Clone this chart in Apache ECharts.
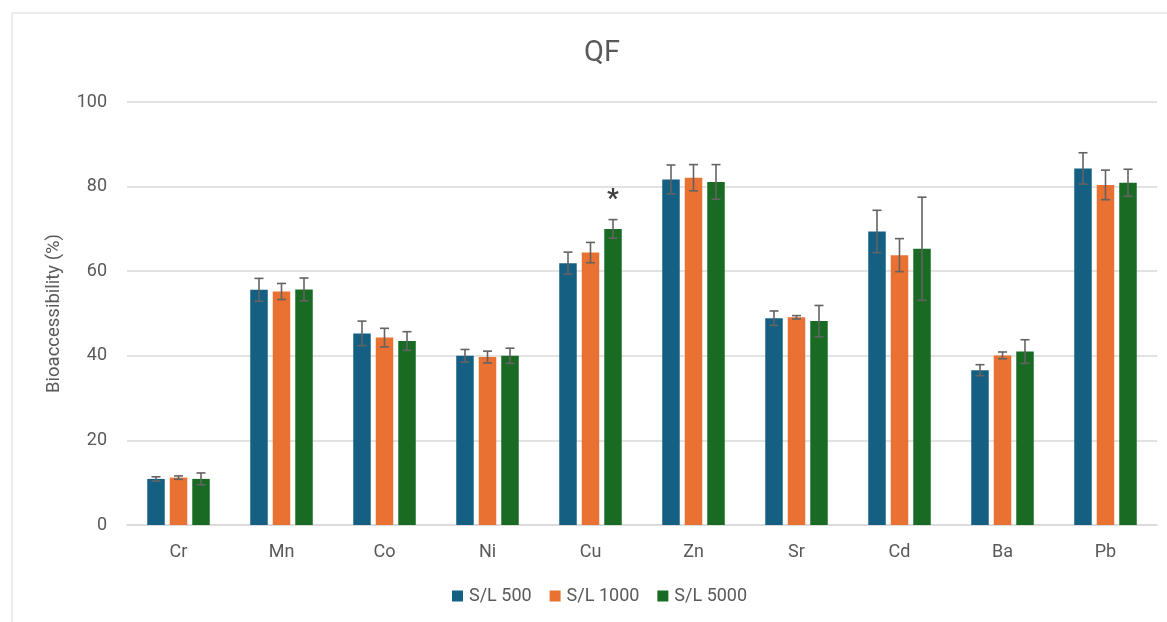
<!DOCTYPE html>
<html>
<head>
<meta charset="utf-8">
<script src="https://cdn.jsdelivr.net/npm/echarts@6/dist/echarts.min.js"></script>
<style>
  html, body { margin: 0; padding: 0; background: #fff; }
  #chart { width: 1167px; height: 622px; }
</style>
</head>
<body>
<div id="chart"></div>
<script>
// data
const elements = ['Cr', 'Mn', 'Co', 'Ni', 'Cu', 'Zn', 'Sr', 'Cd', 'Ba', 'Pb'];
const seriesNames = ['S/L 500', 'S/L 1000', 'S/L 5000'];
const sl500 = [10.9, 55.6, 45.3, 40.0, 61.9, 81.7, 48.9, 69.4, 36.6, 84.3];
const sl1000 = [11.2, 55.2, 44.3, 39.7, 64.4, 82.1, 49.1, 63.8, 40.1, 80.4];
const sl5000 = [10.9, 55.7, 43.5, 40.0, 70.0, 81.1, 48.2, 65.3, 41.0, 80.9];
const err500 = [0.5, 2.7, 2.9, 1.5, 2.6, 3.4, 1.7, 5.0, 1.3, 3.7];
const err1000 = [0.4, 1.9, 2.2, 1.4, 2.4, 3.1, 0.4, 3.9, 0.8, 3.5];
const err5000 = [1.4, 2.7, 2.2, 1.8, 2.2, 4.1, 3.7, 12.2, 2.8, 3.2];
const sig5000 = ['', '', '', '', '*', '', '', '', '', ''];
const yTicks = [0, 20, 40, 60, 80, 100];

const colors = ['#156082', '#E97132', '#196B24'];
const values = [sl500, sl1000, sl5000];
const errors = [err500, err1000, err5000];
const marks = [null, null, sig5000];

const BAR_W = 17.5;
const BAR_GAP = 5;
const FONT = 'Roboto, "Liberation Sans", sans-serif';

const dom = document.getElementById('chart');
const myChart = echarts.init(dom);

function errorSeries(idx) {
  const data = elements.map((el, i) => [i, values[idx][i], errors[idx][i], marks[idx] ? marks[idx][i] : '']);
  return {
    type: 'custom',
    name: seriesNames[idx] + ' err',
    data: data,
    z: 5,
    silent: true,
    encode: { x: 0, y: 1 },
    renderItem: (params, api) => {
      const i = api.value(0);
      const v = api.value(1);
      const e = api.value(2);
      const mark = data[params.dataIndex][3];
      const offset = (idx - 1) * (BAR_W + BAR_GAP);
      const top = api.coord([i, v + e]);
      const bot = api.coord([i, v - e]);
      const x = top[0] + offset;
      const cap = 4.5;
      const style = { stroke: '#636363', lineWidth: 1.6 };
      const children = [
        { type: 'line', shape: { x1: x, y1: top[1], x2: x, y2: bot[1] }, style },
        { type: 'line', shape: { x1: x - cap, y1: top[1], x2: x + cap, y2: top[1] }, style },
        { type: 'line', shape: { x1: x - cap, y1: bot[1], x2: x + cap, y2: bot[1] }, style },
      ];
      if (mark) {
        children.push({
          type: 'text',
          style: {
            text: mark,
            x: x,
            y: top[1] - 6,
            align: 'center',
            verticalAlign: 'bottom',
            font: 'bold 26px ' + FONT,
            fill: '#404040',
          },
        });
      }
      return { type: 'group', children };
    },
  };
}

const barSeries = seriesNames.map((name, idx) => ({
  name: name,
  type: 'bar',
  data: values[idx],
  barWidth: BAR_W,
  barGap: (BAR_GAP / BAR_W * 100).toFixed(1) + '%',
  itemStyle: { color: colors[idx] },
}));

const option = {
  backgroundColor: '#FFFFFF',
  animation: false,
  textStyle: { fontFamily: FONT },
  title: {
    text: 'QF',
    left: 597,
    textAlign: 'center',
    top: 34,
    textStyle: { fontSize: 29, fontWeight: 'normal', color: '#595959', fontFamily: FONT },
  },
  graphic: [
    {
      type: 'rect',
      shape: { x: 12, y: 13, width: 1170, height: 620 },
      style: { fill: 'none', stroke: '#d9d9d9', lineWidth: 1 },
      silent: true,
    },
  ],
  legend: {
    data: seriesNames,
    bottom: 12,
    left: 447,
    itemWidth: 11,
    itemHeight: 11,
    itemGap: 18,
    icon: 'rect',
    textStyle: { fontSize: 18, color: '#595959', fontFamily: FONT, padding: [0, 0, 0, 1] },
  },
  grid: { left: 127, right: 10, top: 102, bottom: 97 },
  xAxis: {
    type: 'category',
    data: elements,
    axisLine: { lineStyle: { color: '#d9d9d9', width: 1.5 } },
    axisTick: { show: false },
    axisLabel: { fontSize: 18, color: '#595959', margin: 18 },
  },
  yAxis: {
    type: 'value',
    min: yTicks[0],
    max: yTicks[yTicks.length - 1],
    interval: yTicks[1] - yTicks[0],
    name: 'Bioaccessibility (%)',
    nameLocation: 'middle',
    nameGap: 63,
    nameTextStyle: { fontSize: 18.5, color: '#595959' },
    axisLine: { show: false },
    axisTick: { show: false },
    axisLabel: { fontSize: 18, color: '#595959', margin: 20 },
    splitLine: { lineStyle: { color: '#d9d9d9', width: 1.5 } },
  },
  series: barSeries.concat([0, 1, 2].map(errorSeries)),
};

myChart.setOption(option);
</script>
</body>
</html>
